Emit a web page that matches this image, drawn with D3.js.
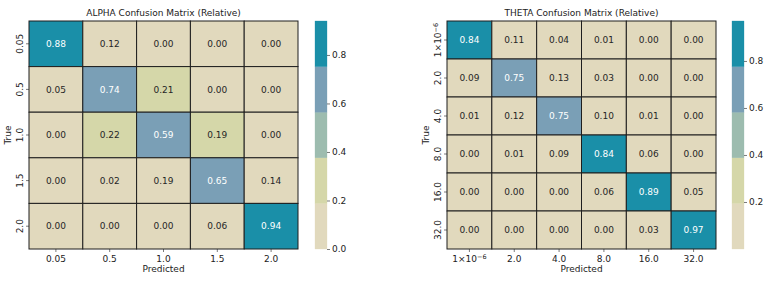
<!DOCTYPE html>
<html>
<head>
<meta charset="utf-8">
<script src="https://cdn.jsdelivr.net/npm/d3@7"></script>
<style>
  html, body { margin: 0; padding: 0; background: #fff; }
  svg { display: block; font-family: "DejaVu Sans", sans-serif; }
</style>
</head>
<body>
<svg id="chart" width="774" height="281"></svg>
<script>
// ---------- data ----------
const alphaLabels = ["0.05", "0.5", "1.0", "1.5", "2.0"];
const alphaValues = [
  [0.88, 0.12, 0.00, 0.00, 0.00],
  [0.05, 0.74, 0.21, 0.00, 0.00],
  [0.00, 0.22, 0.59, 0.192, 0.00],
  [0.00, 0.02, 0.186, 0.65, 0.14],
  [0.00, 0.00, 0.00, 0.06, 0.94]
];
const alphaColorbarTicks = [0.0, 0.2, 0.4, 0.6, 0.8];

const thetaLabels = ["1e-6", "2.0", "4.0", "8.0", "16.0", "32.0"];
const thetaValues = [
  [0.84, 0.11, 0.04, 0.01, 0.00, 0.00],
  [0.09, 0.75, 0.13, 0.03, 0.00, 0.00],
  [0.01, 0.12, 0.75, 0.10, 0.01, 0.00],
  [0.00, 0.01, 0.09, 0.84, 0.06, 0.00],
  [0.00, 0.00, 0.00, 0.06, 0.89, 0.05],
  [0.00, 0.00, 0.00, 0.00, 0.03, 0.97]
];
const thetaColorbarTicks = [0.2, 0.4, 0.6, 0.8];

const palette = ["#e1d9bd", "#d5d7a9", "#9dbcaf", "#7a9fb6", "#1a8fa8"];

// ---------- drawing ----------
const svg = d3.select("#chart");
const FS = 9;

function label(sel, txt) {
  if (txt === "1e-6") {
    sel.text(null);
    sel.append("tspan").text("1\u00d710");
    sel.append("tspan").attr("dy", "-0.45em").attr("font-size", FS * 0.72).text("\u22126");
  } else sel.text(txt);
}

function heatmap(cfg) {
  const { labels, values, x0, x1, y0, y1, cbX, cbTicks, title } = cfg;
  const n = labels.length;
  const vmax = d3.max(values.flat());
  const color = d3.scaleQuantize().domain([0, vmax]).range(palette);
  const x = d3.scaleBand().domain(d3.range(n)).range([x0, x1]);
  const y = d3.scaleBand().domain(d3.range(n)).range([y0, y1]);
  const g = svg.append("g");

  const cells = [];
  values.forEach((row, i) => row.forEach((v, j) => cells.push({ i, j, v })));

  g.selectAll("rect.cell").data(cells).join("rect")
    .attr("class", "cell")
    .attr("x", d => x(d.j)).attr("y", d => y(d.i))
    .attr("width", x.bandwidth()).attr("height", y.bandwidth())
    .attr("fill", d => color(d.v))
    .attr("stroke", "#1e1e1e").attr("stroke-width", 1);

  g.selectAll("text.val").data(cells).join("text")
    .attr("class", "val")
    .attr("x", d => x(d.j) + x.bandwidth() / 2)
    .attr("y", d => y(d.i) + y.bandwidth() / 2)
    .attr("dy", "0.35em")
    .attr("text-anchor", "middle")
    .attr("font-size", FS)
    .attr("fill", d => (palette.indexOf(color(d.v)) >= 3 ? "#ffffff" : "#262626"))
    .text(d => d.v.toFixed(2));

  // title
  g.append("text").attr("x", (x0 + x1) / 2).attr("y", y0 - 5)
    .attr("text-anchor", "middle").attr("font-size", FS).attr("fill", "#222")
    .text(title);

  // x ticks
  g.selectAll("text.xt").data(labels).join("text")
    .attr("class", "xt")
    .attr("x", (d, j) => x(j) + x.bandwidth() / 2)
    .attr("y", y1 + 13)
    .attr("text-anchor", "middle").attr("font-size", FS).attr("fill", "#222")
    .each(function (d) { label(d3.select(this), d); });
  g.selectAll("line.xtk").data(labels).join("line")
    .attr("x1", (d, j) => x(j) + x.bandwidth() / 2).attr("x2", (d, j) => x(j) + x.bandwidth() / 2)
    .attr("y1", y1).attr("y2", y1 + 3).attr("stroke", "#222").attr("stroke-width", 0.6);
  g.append("text").attr("x", (x0 + x1) / 2).attr("y", y1 + 23)
    .attr("text-anchor", "middle").attr("font-size", FS).attr("fill", "#222")
    .text("Predicted");

  // y ticks
  g.selectAll("text.yt").data(labels).join("text")
    .attr("class", "yt")
    .attr("transform", (d, i) => `translate(${x0 - 6},${y(i) + y.bandwidth() / 2}) rotate(-90)`)
    .attr("text-anchor", "middle").attr("font-size", FS).attr("fill", "#222")
    .each(function (d) { label(d3.select(this), d); });
  g.selectAll("line.ytk").data(labels).join("line")
    .attr("x1", x0 - 3).attr("x2", x0)
    .attr("y1", (d, i) => y(i) + y.bandwidth() / 2).attr("y2", (d, i) => y(i) + y.bandwidth() / 2)
    .attr("stroke", "#222").attr("stroke-width", 0.6);
  g.append("text")
    .attr("transform", `translate(${x0 - 18},${(y0 + y1) / 2}) rotate(-90)`)
    .attr("text-anchor", "middle").attr("font-size", FS).attr("fill", "#222")
    .text("True");

  // colorbar
  const cy = d3.scaleLinear().domain([0, vmax]).range([y1, y0]);
  const cbW = 12;
  g.selectAll("rect.cb").data(palette).join("rect")
    .attr("class", "cb")
    .attr("x", cbX)
    .attr("y", c => cy(color.invertExtent(c)[1]))
    .attr("width", cbW)
    .attr("height", c => cy(color.invertExtent(c)[0]) - cy(color.invertExtent(c)[1]))
    .attr("fill", c => c).attr("stroke", c => c).attr("stroke-width", 0.3);
  const axis = d3.axisRight(cy).tickValues(cbTicks).tickFormat(d3.format(".1f"))
    .tickSize(3).tickPadding(2);
  const ag = g.append("g").attr("transform", `translate(${cbX + cbW},0)`).call(axis);
  ag.select(".domain").remove();
  ag.selectAll("text").attr("font-size", FS).attr("font-family", "DejaVu Sans").attr("fill", "#222");
  ag.selectAll("line").attr("stroke", "#222").attr("stroke-width", 0.6);
}

heatmap({
  labels: alphaLabels, values: alphaValues,
  x0: 29, x1: 298, y0: 21, y1: 249, cbX: 315,
  cbTicks: alphaColorbarTicks, title: "ALPHA Confusion Matrix (Relative)"
});
heatmap({
  labels: thetaLabels, values: thetaValues,
  x0: 447, x1: 716, y0: 21, y1: 249, cbX: 732,
  cbTicks: thetaColorbarTicks, title: "THETA Confusion Matrix (Relative)"
});
</script>
</body>
</html>
